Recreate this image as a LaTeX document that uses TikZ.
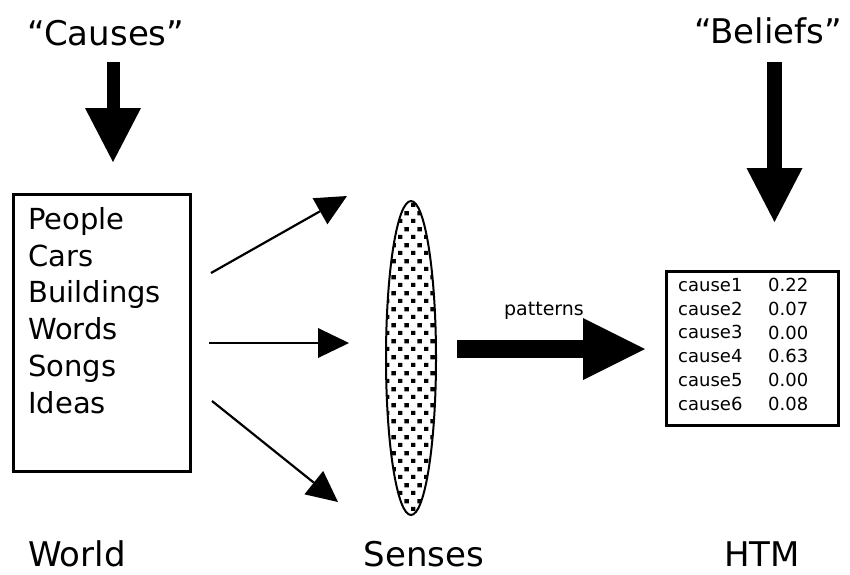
\documentclass[tikz,border=0pt]{standalone}
\usepackage{fontspec}
\setmainfont{DejaVu Sans}
\usetikzlibrary{shapes.geometric,arrows.meta,patterns}

\pgfdeclarepatternformonly{sensedots}{\pgfpointorigin}{\pgfqpoint{13.3pt}{16pt}}{\pgfqpoint{13.3pt}{16pt}}{
	\pgfpathrectangle{\pgfqpoint{0pt}{0pt}}{\pgfqpoint{4.5pt}{4.5pt}}
	\pgfpathrectangle{\pgfqpoint{6.65pt}{8pt}}{\pgfqpoint{4.5pt}{4.5pt}}
	\pgfusepath{fill}
}

\begin{document}
\begin{tikzpicture}[x=1pt,y=-1pt]
			\tikzstyle{heading}=[font=\fontsize{34}{40}\selectfont, inner sep=0pt, anchor=base]
			\tikzstyle{quoted}=[font=\fontsize{34}{40}\selectfont, inner sep=0pt, anchor=base]
			\tikzstyle{framebox}=[draw, line width=3pt, inner sep=0pt]
			\tikzstyle{listing}=[anchor=north west, inner sep=0pt, align=left]
			\tikzstyle{bigarrow}=[line width=14pt, -{Triangle[length=54pt,width=56pt,line width=0pt]}]
			\tikzstyle{thinarrow}=[line width=2.2pt, -{Triangle[length=31pt,width=30pt,line width=0pt]}]
			\useasboundingbox (0,0) rectangle (850,574);
			\node[quoted] (causes) at (106,45) {“Causes”};
			\node[quoted] (beliefs) at (768,43) {“Beliefs”};
			\node[framebox, minimum width=177pt, minimum height=277pt] (world) at (102,332.5) {};
			\node[listing, font=\fontsize{29}{36.8}\selectfont] (things) at (28,207) {People\\Cars\\Buildings\\Words\\Songs\\Ideas};
			\node[ellipse, draw, line width=2pt, minimum width=50pt, minimum height=314pt, pattern=sensedots] (senses) at (411,358) {};
			\node[framebox, minimum width=172pt, minimum height=154pt] (htm) at (752.5,348.5) {};
			\node[listing, font=\fontsize{18}{23.8}\selectfont] (causenames) at (678,278) {cause1\\cause2\\cause3\\cause4\\cause5\\cause6};
			\node[listing, font=\fontsize{18}{23.8}\selectfont] (causevalues) at (768,278) {0.22\\0.07\\0.00\\0.63\\0.00\\0.08};
			\node[font=\fontsize{19}{20}\selectfont, inner sep=0pt, anchor=base] (patterns) at (544,315) {patterns};
			\node[heading] (worldname) at (77,566) {World};
			\node[heading] (sensesname) at (424,566) {Senses};
			\node[heading] (htmname) at (762,566) {HTM};
			\coordinate (causesfrom) at (113,62);
			\coordinate (causesto) at (113,162);
			\coordinate (beliefsfrom) at (774.5,62);
			\coordinate (beliefsto) at (774.5,222);
			\coordinate (upfrom) at (211,273);
			\coordinate (upto) at (347,196);
			\coordinate (midfrom) at (209,343);
			\coordinate (midto) at (349,343);
			\coordinate (downfrom) at (212,401);
			\coordinate (downto) at (338,502);
			\coordinate (patternsfrom) at (457,349);
			\coordinate (patternsto) at (645,349);
			\draw[bigarrow, line width=13pt] (causesfrom) -- (causesto);
			\draw[bigarrow, line width=15pt] (beliefsfrom) -- (beliefsto);
			\draw[thinarrow] (upfrom) -- (upto);
			\draw[thinarrow] (midfrom) -- (midto);
			\draw[thinarrow] (downfrom) -- (downto);
			\draw[bigarrow, line width=18pt, -{Triangle[length=62pt,width=62pt,line width=0pt]}] (patternsfrom) -- (patternsto);
		\end{tikzpicture}
\end{document}
